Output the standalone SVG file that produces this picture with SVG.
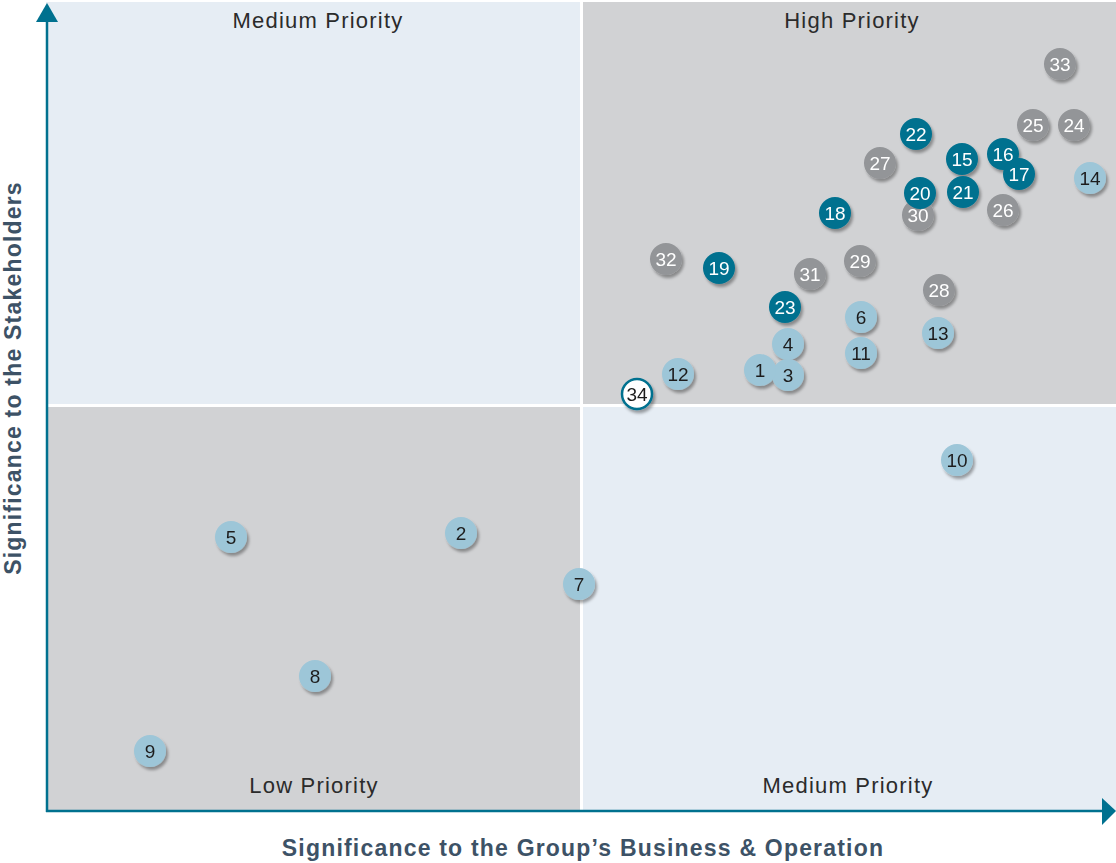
<svg xmlns="http://www.w3.org/2000/svg" width="1116" height="863" viewBox="0 0 1116 863">
<style>
.q-light{fill:#E6EDF4}
.q-gray{fill:#D1D2D4}
.ql{font-family:"Liberation Sans",Arial,sans-serif;font-size:22px;letter-spacing:1.2px;fill:#2B2B2B;text-anchor:middle}
.ax{font-family:"Liberation Sans",Arial,sans-serif;font-size:23px;letter-spacing:1.2px;font-weight:bold;fill:#3D5266;text-anchor:middle}
.n text{font-family:"Liberation Sans",Arial,sans-serif;font-size:19px;text-anchor:middle;dominant-baseline:central}
.lb circle{fill:#9DC6D8}
.lb text{fill:#1E1E1E}
.tl circle{fill:#00718F}
.tl text{fill:#FFFFFF}
.gr circle{fill:#939598}
.gr text{fill:#FFFFFF}
.wh circle{fill:#FFFFFF;stroke:#00718F;stroke-width:2.5}
.wh text{fill:#1E1E1E}
</style>
<defs>
<filter id="sh" x="-50%" y="-50%" width="200%" height="200%">
<feDropShadow dx="2" dy="3" stdDeviation="1.8" flood-color="#000" flood-opacity="0.35"/>
</filter>
</defs>
<rect width="1116" height="863" fill="#FFFFFF"/>
<g id="quadrants">
<rect class="q-light" x="46" y="2" width="534" height="402"/>
<rect class="q-gray" x="583" y="2" width="533" height="402"/>
<rect class="q-gray" x="46" y="407" width="534" height="404"/>
<rect class="q-light" x="583" y="407" width="533" height="404"/>
<text class="ql" x="318" y="28">Medium Priority</text>
<text class="ql" x="852" y="28">High Priority</text>
<text class="ql" x="314" y="793">Low Priority</text>
<text class="ql" x="848" y="793">Medium Priority</text>
</g>
<g id="connectors">
<line x1="47" y1="812" x2="47" y2="22" stroke="#00718F" stroke-width="2.5"/>
<path d="M36,22 L47,3 L58,22 Z" fill="#00718F"/>
<line x1="46" y1="811" x2="1102" y2="811" stroke="#00718F" stroke-width="2.5"/>
<path d="M1102,798 L1116,811 L1102,825 Z" fill="#00718F"/>
</g>
<text class="ax" x="583" y="856">Significance to the Group’s Business &amp; Operation</text>
<text class="ax" transform="translate(21,378) rotate(-90)">Significance to the Stakeholders</text>
<g filter="url(#sh)">
<g id="n33" class="n gr"><circle cx="1060" cy="64" r="16"/><text x="1060" y="64">33</text></g>
<g id="n25" class="n gr"><circle cx="1033" cy="125" r="16"/><text x="1033" y="125">25</text></g>
<g id="n24" class="n gr"><circle cx="1074" cy="125" r="16"/><text x="1074" y="125">24</text></g>
<g id="n22" class="n tl"><circle cx="916" cy="134" r="16"/><text x="916" y="134">22</text></g>
<g id="n27" class="n gr"><circle cx="880" cy="163" r="16"/><text x="880" y="163">27</text></g>
<g id="n15" class="n tl"><circle cx="962" cy="159" r="16"/><text x="962" y="159">15</text></g>
<g id="n16" class="n tl"><circle cx="1003" cy="154" r="16"/><text x="1003" y="154">16</text></g>
<g id="n17" class="n tl"><circle cx="1019" cy="174" r="16"/><text x="1019" y="174">17</text></g>
<g id="n14" class="n lb"><circle cx="1090" cy="178" r="16"/><text x="1090" y="178">14</text></g>
<g id="n30" class="n gr"><circle cx="918" cy="215" r="16"/><text x="918" y="215">30</text></g>
<g id="n20" class="n tl"><circle cx="920" cy="193" r="16"/><text x="920" y="193">20</text></g>
<g id="n21" class="n tl"><circle cx="963" cy="192" r="16"/><text x="963" y="192">21</text></g>
<g id="n26" class="n gr"><circle cx="1003" cy="210" r="16"/><text x="1003" y="210">26</text></g>
<g id="n18" class="n tl"><circle cx="835" cy="213" r="16"/><text x="835" y="213">18</text></g>
<g id="n32" class="n gr"><circle cx="666" cy="259" r="16"/><text x="666" y="259">32</text></g>
<g id="n19" class="n tl"><circle cx="719" cy="268" r="16"/><text x="719" y="268">19</text></g>
<g id="n31" class="n gr"><circle cx="810" cy="274" r="16"/><text x="810" y="274">31</text></g>
<g id="n29" class="n gr"><circle cx="860" cy="261" r="16"/><text x="860" y="261">29</text></g>
<g id="n28" class="n gr"><circle cx="939" cy="290" r="16"/><text x="939" y="290">28</text></g>
<g id="n23" class="n tl"><circle cx="785" cy="307" r="16"/><text x="785" y="307">23</text></g>
<g id="n6" class="n lb"><circle cx="861" cy="317" r="16"/><text x="861" y="317">6</text></g>
<g id="n13" class="n lb"><circle cx="938" cy="333" r="16"/><text x="938" y="333">13</text></g>
<g id="n11" class="n lb"><circle cx="861" cy="353" r="16"/><text x="861" y="353">11</text></g>
<g id="n3" class="n lb"><circle cx="788" cy="375" r="16"/><text x="788" y="375">3</text></g>
<g id="n4" class="n lb"><circle cx="788" cy="344" r="16"/><text x="788" y="344">4</text></g>
<g id="n1" class="n lb"><circle cx="760" cy="370" r="16"/><text x="760" y="370">1</text></g>
<g id="n12" class="n lb"><circle cx="678" cy="374" r="16"/><text x="678" y="374">12</text></g>
<g id="n34" class="n wh"><circle cx="637" cy="394" r="15"/><text x="637" y="394">34</text></g>
<g id="n10" class="n lb"><circle cx="957" cy="460" r="16"/><text x="957" y="460">10</text></g>
<g id="n5" class="n lb"><circle cx="231" cy="537" r="16"/><text x="231" y="537">5</text></g>
<g id="n2" class="n lb"><circle cx="461" cy="533" r="16"/><text x="461" y="533">2</text></g>
<g id="n7" class="n lb"><circle cx="579" cy="584" r="16"/><text x="579" y="584">7</text></g>
<g id="n8" class="n lb"><circle cx="315" cy="676" r="16"/><text x="315" y="676">8</text></g>
<g id="n9" class="n lb"><circle cx="150" cy="751" r="16"/><text x="150" y="751">9</text></g>
</g>
</svg>
